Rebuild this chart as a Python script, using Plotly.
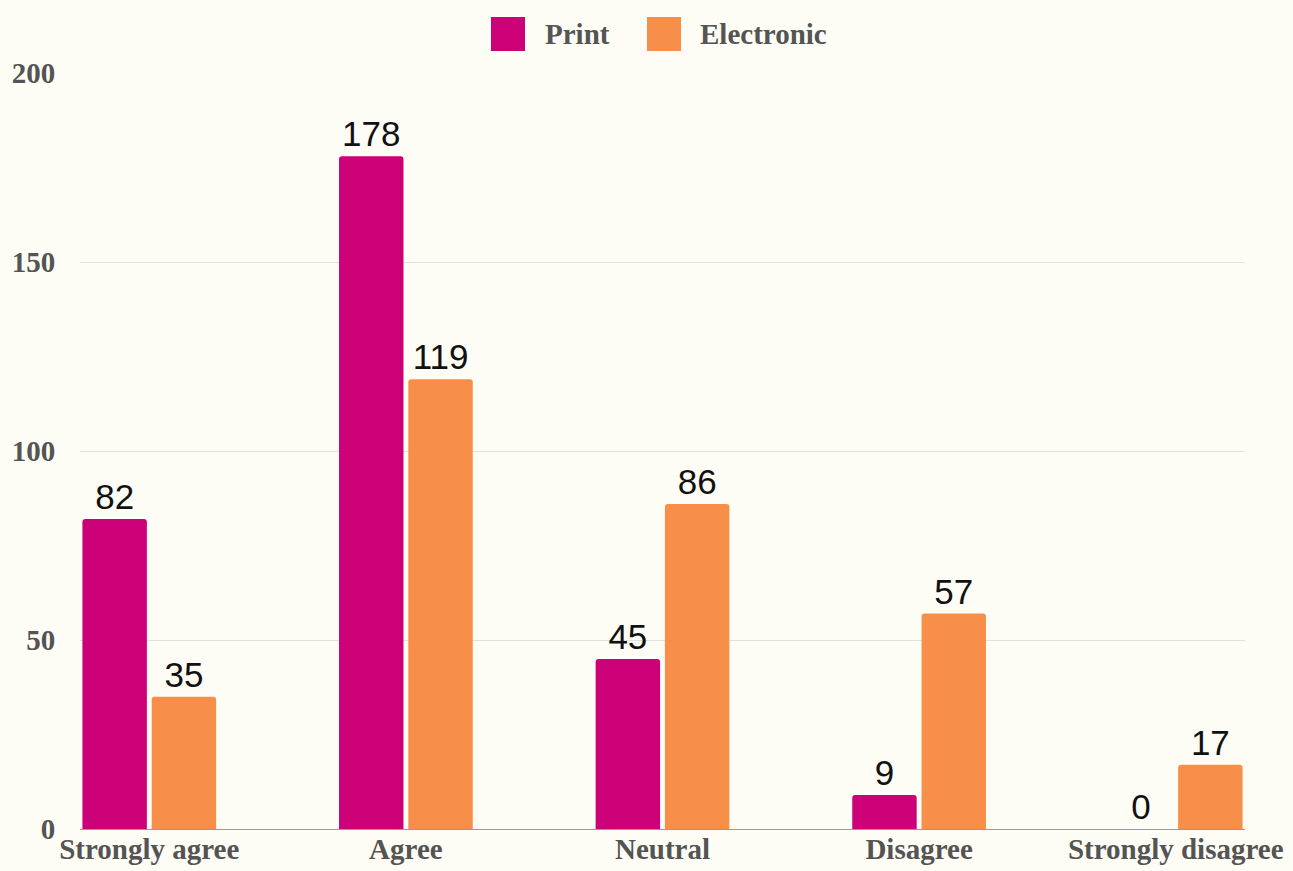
import plotly.graph_objects as go

categories = ["Strongly agree", "Agree", "Neutral", "Disagree", "Strongly disagree"]
print_values = [82, 178, 45, 9, 0]
electronic_values = [35, 119, 86, 57, 17]
y_ticks = [0, 50, 100, 150, 200]

PRINT_COLOR = "#cc0077"
ELEC_COLOR = "#f78f4b"
BG = "#fdfdf5"
TICK_FONT = dict(family="Liberation Serif, Times New Roman, serif", size=29,
                 color="#545454", weight="bold")
VALUE_FONT = dict(family="Liberation Sans, Arial, sans-serif", size=35, color="#111111")

fig = go.Figure()
for name, vals, color in [("Print", print_values, PRINT_COLOR),
                          ("Electronic", electronic_values, ELEC_COLOR)]:
    fig.add_trace(go.Bar(
        name=name, x=categories, y=vals,
        marker=dict(color=color, line=dict(width=0), cornerradius=3),
        text=[str(v) for v in vals], textposition="outside",
        textfont=VALUE_FONT, cliponaxis=False, showlegend=False,
    ))

# Legend drawn as rounded swatches with bold serif labels
legend_items = [("Print", PRINT_COLOR, 491, 543), ("Electronic", ELEC_COLOR, 647, 698)]
shapes = []
annotations = []
for label, color, sx, tx in legend_items:
    shapes.append(dict(type="rect", xref="paper", yref="paper",
                       x0=(sx - 80) / 1165, x1=(sx + 34 - 80) / 1165,
                       y0=(829 - 51) / 756, y1=(829 - 17) / 756,
                       fillcolor=color, line=dict(width=0), layer="above"))
    annotations.append(dict(text=label, xref="paper", yref="paper",
                            x=(tx - 80) / 1165, y=(829 - 34) / 756,
                            xanchor="left", yanchor="middle", showarrow=False,
                            font=TICK_FONT))

fig.update_layout(
    width=1293, height=871,
    margin=dict(l=80, r=48, t=73, b=42),
    paper_bgcolor=BG, plot_bgcolor=BG,
    barmode="group", bargap=0.46, bargroupgap=0.07,
    shapes=shapes, annotations=annotations,
    xaxis=dict(range=[-0.27, 4.27], showgrid=False, showline=False, zeroline=False,
               automargin=False, tickfont=TICK_FONT, ticks=""),
    yaxis=dict(range=[0, 200], tickvals=y_ticks, showgrid=True, gridcolor="#e2e2dc",
               gridwidth=1, zeroline=True, zerolinecolor="#9a9a96", zerolinewidth=1,
               automargin=False, tickfont=TICK_FONT, ticks="outside", ticklen=18,
               tickcolor="rgba(0,0,0,0)"),
)

fig.write_html("out.html")
